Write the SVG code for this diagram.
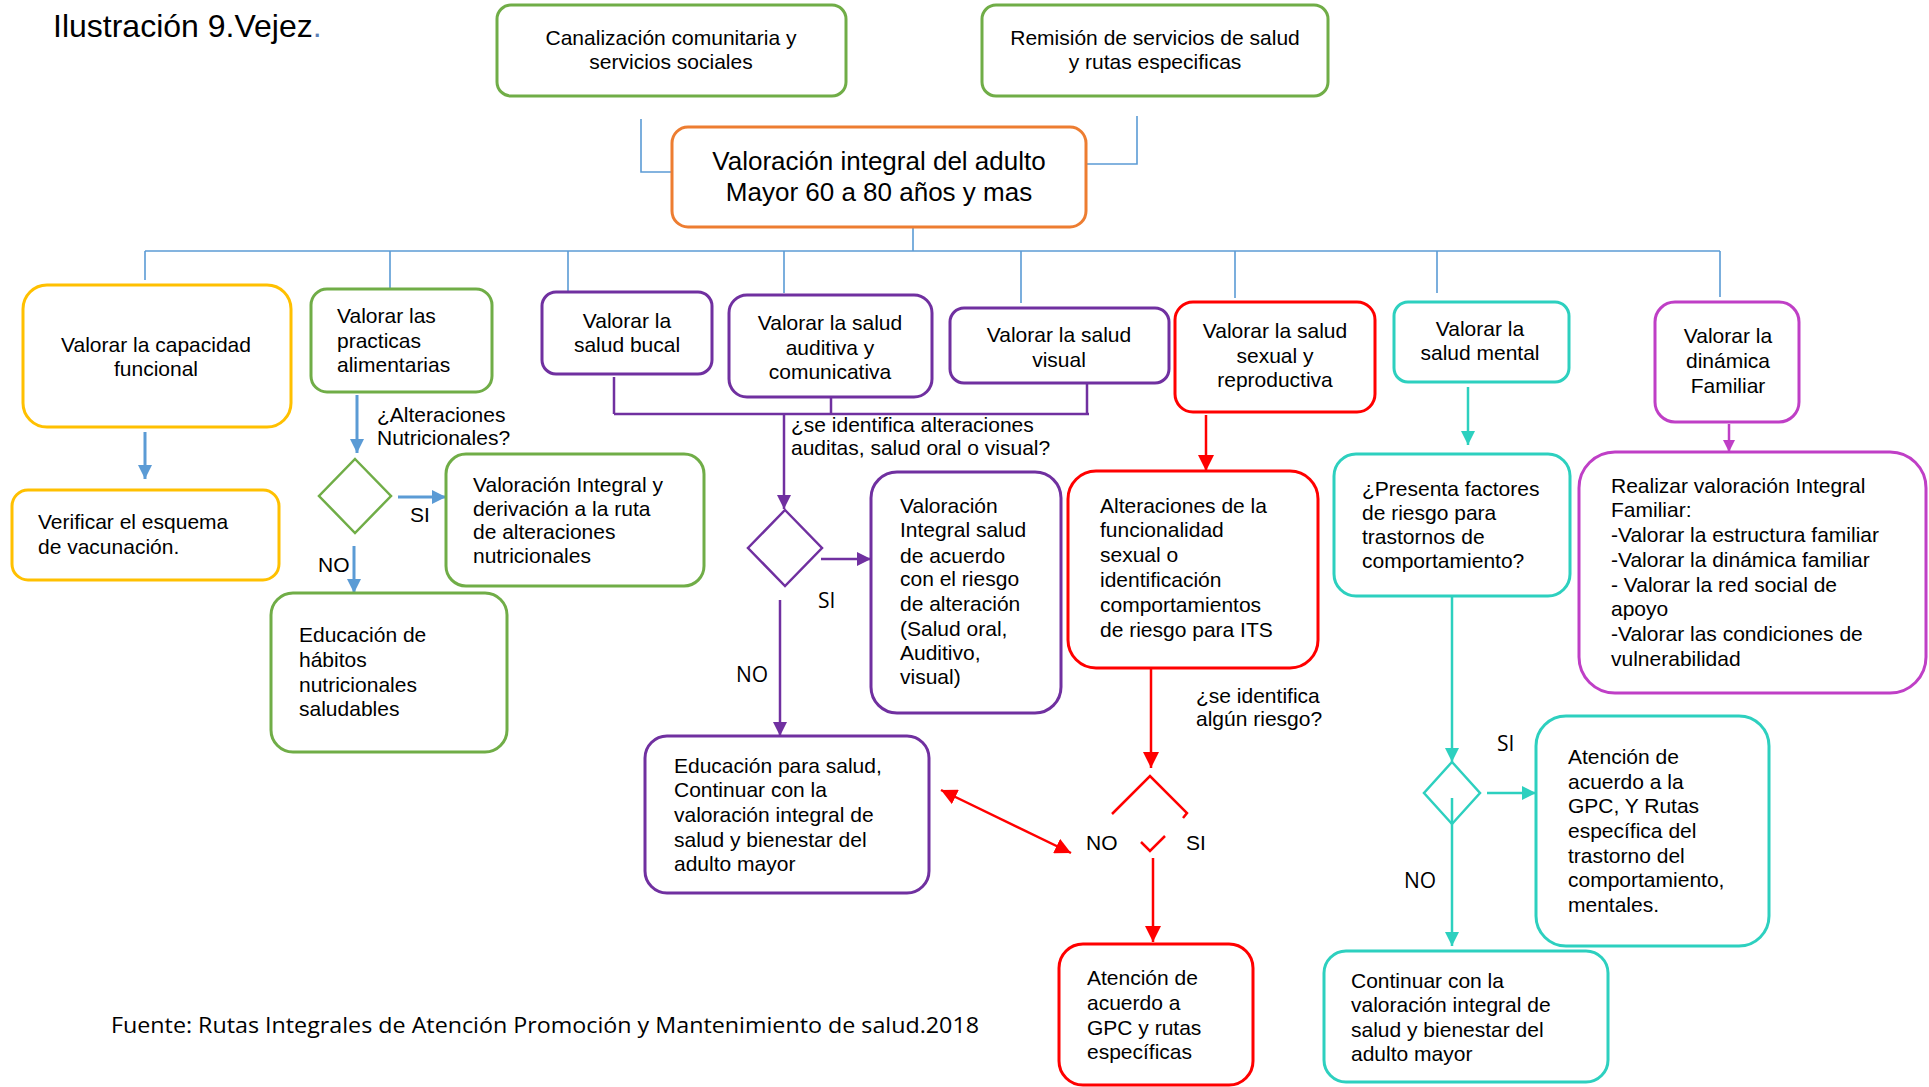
<svg xmlns="http://www.w3.org/2000/svg" width="1929" height="1087" viewBox="0 0 1929 1087">
<style>
.t{font-family:"Liberation Sans",Arial,sans-serif;font-size:21px;fill:#000}
.c{text-anchor:middle}
.k{font-family:"Open Sans","Liberation Sans",sans-serif;font-size:21px;fill:#000}
.box{fill:#fff;stroke-width:3}
.yl{stroke:#FFC000}.gr{stroke:#70AD47}.pu{stroke:#7030A0}.rd{stroke:#FF0000}.cy{stroke:#2DD0BF}.mg{stroke:#BF3FC6}.or{stroke:#ED7D31}
.dia{fill:#fff;stroke-width:2.5}
.tree{fill:none;stroke:#5B9BD5;stroke-width:1.6}
.ab{fill:none;stroke:#5B9BD5;stroke-width:3}
.ap{fill:none;stroke:#7030A0;stroke-width:2.5}
.ar{fill:none;stroke:#FF0000;stroke-width:2.5}
.ac{fill:none;stroke:#2DD0BF;stroke-width:2.5}
.am{fill:none;stroke:#BF3FC6;stroke-width:2.5}
</style>
<defs>
<marker id="mb" viewBox="0 0 10 10" refX="10" refY="5" markerWidth="14" markerHeight="16" markerUnits="userSpaceOnUse" orient="auto"><path d="M0,0 L10,5 L0,10 z" fill="#5B9BD5"/></marker>
<marker id="mp" viewBox="0 0 10 10" refX="10" refY="5" markerWidth="14" markerHeight="16" markerUnits="userSpaceOnUse" orient="auto"><path d="M0,0 L10,5 L0,10 z" fill="#7030A0"/></marker>
<marker id="mr" viewBox="0 0 10 10" refX="10" refY="5" markerWidth="16" markerHeight="16" markerUnits="userSpaceOnUse" orient="auto-start-reverse"><path d="M0,0 L10,5 L0,10 z" fill="#FF0000"/></marker>
<marker id="mc" viewBox="0 0 10 10" refX="10" refY="5" markerWidth="14" markerHeight="16" markerUnits="userSpaceOnUse" orient="auto"><path d="M0,0 L10,5 L0,10 z" fill="#2DD0BF"/></marker>
<marker id="mm" viewBox="0 0 10 10" refX="10" refY="5" markerWidth="12" markerHeight="14" markerUnits="userSpaceOnUse" orient="auto"><path d="M0,0 L10,5 L0,10 z" fill="#BF3FC6"/></marker>
</defs>
<rect width="1929" height="1087" fill="#fff"/>

<g id="title">
<text class="t" x="53" y="37" style="font-size:32px">Ilustración 9.Vejez<tspan fill="#5B7FB5">.</tspan></text>
</g>

<g id="connectors">
<path class="tree" d="M641,119 V172 H672"/>
<path class="tree" d="M1137,116 V164 H1086"/>
<path class="tree" d="M913,227 V251"/>
<path class="tree" d="M145,251 H1720"/>
<path class="tree" d="M145,251 V280 M390,251 V288 M568,251 V292 M784,251 V293 M1021,251 V303 M1235,251 V298 M1437,251 V293 M1720,251 V297"/>
<line class="ab" x1="145" y1="432" x2="145" y2="479" marker-end="url(#mb)"/>
<line class="ab" x1="357" y1="395" x2="357" y2="453" marker-end="url(#mb)"/>
<line class="ab" x1="398" y1="497" x2="446" y2="497" marker-end="url(#mb)"/>
<line class="ab" x1="354" y1="546" x2="354" y2="593" marker-end="url(#mb)"/>
<path class="ap" d="M614,377 V414 M831,396 V414 M1087,382 V414 M614,414 H1089"/>
<line class="ap" x1="784" y1="414" x2="784" y2="509" marker-end="url(#mp)"/>
<line class="ap" x1="821" y1="559" x2="871" y2="559" marker-end="url(#mp)"/>
<line class="ap" x1="780" y1="600" x2="780" y2="736" marker-end="url(#mp)"/>
<line class="ar" x1="1206" y1="415" x2="1206" y2="471" marker-end="url(#mr)"/>
<line class="ar" x1="1151" y1="668" x2="1151" y2="768" marker-end="url(#mr)"/>
<line class="ar" x1="941" y1="790" x2="1071" y2="853" marker-start="url(#mr)" marker-end="url(#mr)"/>
<line class="ar" x1="1153" y1="858" x2="1153" y2="942" marker-end="url(#mr)"/>
<line class="ac" x1="1468" y1="387" x2="1468" y2="445" marker-end="url(#mc)"/>
<line class="ac" x1="1452" y1="596" x2="1452" y2="762" marker-end="url(#mc)"/>
<line class="ac" x1="1487" y1="793" x2="1536" y2="793" marker-end="url(#mc)"/>
<line class="am" x1="1729" y1="424" x2="1729" y2="452" marker-end="url(#mm)"/>
</g>

<g id="n-canalizacion">
<rect class="box gr" x="497" y="5" width="349" height="91" rx="14"/>
<text class="t c" x="671" y="45">Canalización comunitaria y</text>
<text class="t c" x="671" y="69">servicios sociales</text>
</g>
<g id="n-remision">
<rect class="box gr" x="982" y="5" width="346" height="91" rx="14"/>
<text class="t c" x="1155" y="45">Remisión de servicios de salud</text>
<text class="t c" x="1155" y="69">y rutas especificas</text>
</g>
<g id="n-central">
<rect class="box or" x="672" y="127" width="414" height="100" rx="16"/>
<text class="t c" x="879" y="170" style="font-size:26px">Valoración integral del adulto</text>
<text class="t c" x="879" y="201" style="font-size:26px">Mayor 60 a 80 años y mas</text>
</g>

<g id="n-capacidad">
<rect class="box yl" x="23" y="285" width="268" height="142" rx="24"/>
<text class="t c" x="156" y="352">Valorar la capacidad</text>
<text class="t c" x="156" y="376">funcional</text>
</g>
<g id="n-vacunacion">
<rect class="box yl" x="12" y="490" width="267" height="90" rx="16"/>
<text class="t" x="38" y="529">Verificar el esquema</text>
<text class="t" x="38" y="554">de vacunación.</text>
</g>

<g id="n-practicas">
<rect class="box gr" x="311" y="289" width="181" height="103" rx="16"/>
<text class="t" x="337" y="323">Valorar las</text>
<text class="t" x="337" y="348">practicas</text>
<text class="t" x="337" y="372">alimentarias</text>
</g>
<g id="n-dec-nutri">
<polygon class="dia gr" points="355,459 391,496 355,533 319,496"/>
</g>
<g id="lbl-nutri">
<text class="t" x="377" y="422">¿Alteraciones</text>
<text class="t" x="377" y="445">Nutricionales?</text>
<text class="t" x="410" y="522">SI</text>
<text class="t" x="318" y="572">NO</text>
</g>
<g id="n-val-nutri">
<rect class="box gr" x="446" y="454" width="258" height="132" rx="20"/>
<text class="t" x="473" y="492">Valoración Integral y</text>
<text class="t" x="473" y="516">derivación a la ruta</text>
<text class="t" x="473" y="539">de alteraciones</text>
<text class="t" x="473" y="563">nutricionales</text>
</g>
<g id="n-edu-habitos">
<rect class="box gr" x="271" y="593" width="236" height="159" rx="22"/>
<text class="t" x="299" y="642">Educación de</text>
<text class="t" x="299" y="667">hábitos</text>
<text class="t" x="299" y="692">nutricionales</text>
<text class="t" x="299" y="716">saludables</text>
</g>

<g id="n-bucal">
<rect class="box pu" x="542" y="292" width="170" height="82" rx="14"/>
<text class="t c" x="627" y="328">Valorar la</text>
<text class="t c" x="627" y="352">salud bucal</text>
</g>
<g id="n-auditiva">
<rect class="box pu" x="729" y="295" width="203" height="102" rx="18"/>
<text class="t c" x="830" y="330">Valorar la salud</text>
<text class="t c" x="830" y="355">auditiva y</text>
<text class="t c" x="830" y="379">comunicativa</text>
</g>
<g id="n-visual">
<rect class="box pu" x="950" y="308" width="219" height="75" rx="14"/>
<text class="t c" x="1059" y="342">Valorar la salud</text>
<text class="t c" x="1059" y="367">visual</text>
</g>
<g id="n-dec-sentidos">
<polygon class="dia pu" points="785,510 822,548 785,586 748,548"/>
</g>
<g id="lbl-sentidos">
<text class="t" x="791" y="432">¿se identifica alteraciones</text>
<text class="t" x="791" y="455">auditas, salud oral o visual?</text>
<text class="k" x="818" y="608">SI</text>
<text class="k" x="736" y="682">NO</text>
</g>
<g id="n-val-salud">
<rect class="box pu" x="871" y="472" width="190" height="241" rx="26"/>
<text class="t" x="900" y="513">Valoración</text>
<text class="t" x="900" y="537">Integral salud</text>
<text class="t" x="900" y="563">de acuerdo</text>
<text class="t" x="900" y="586">con el riesgo</text>
<text class="t" x="900" y="611">de alteración</text>
<text class="t" x="900" y="636">(Salud oral,</text>
<text class="t" x="900" y="660">Auditivo,</text>
<text class="t" x="900" y="684">visual)</text>
</g>
<g id="n-edu-salud">
<rect class="box pu" x="645" y="736" width="284" height="157" rx="22"/>
<text class="t" x="674" y="773">Educación para salud,</text>
<text class="t" x="674" y="797">Continuar con la</text>
<text class="t" x="674" y="822">valoración integral de</text>
<text class="t" x="674" y="847">salud y bienestar del</text>
<text class="t" x="674" y="871">adulto mayor</text>
</g>

<g id="n-sexual">
<rect class="box rd" x="1175" y="302" width="200" height="110" rx="18"/>
<text class="t c" x="1275" y="338">Valorar la salud</text>
<text class="t c" x="1275" y="363">sexual y</text>
<text class="t c" x="1275" y="387">reproductiva</text>
</g>
<g id="n-alteraciones">
<rect class="box rd" x="1068" y="471" width="250" height="197" rx="28"/>
<text class="t" x="1100" y="513">Alteraciones de la</text>
<text class="t" x="1100" y="537">funcionalidad</text>
<text class="t" x="1100" y="562">sexual o</text>
<text class="t" x="1100" y="587">identificación</text>
<text class="t" x="1100" y="612">comportamientos</text>
<text class="t" x="1100" y="637">de riesgo para ITS</text>
</g>
<g id="n-dec-riesgo">
<polyline points="1112,814 1150,776 1187,813 1183,818" fill="none" stroke="#FF0000" stroke-width="2.5"/>
<polyline points="1141,842 1150,851 1165,836" fill="none" stroke="#FF0000" stroke-width="2.5"/>
</g>
<g id="lbl-riesgo">
<text class="t" x="1196" y="703">¿se identifica</text>
<text class="t" x="1196" y="726">algún riesgo?</text>
<text class="t" x="1086" y="850">NO</text>
<text class="t" x="1186" y="850">SI</text>
</g>
<g id="n-atencion-gpc">
<rect class="box rd" x="1059" y="944" width="194" height="141" rx="24"/>
<text class="t" x="1087" y="985">Atención de</text>
<text class="t" x="1087" y="1010">acuerdo a</text>
<text class="t" x="1087" y="1035">GPC y rutas</text>
<text class="t" x="1087" y="1059">específicas</text>
</g>

<g id="n-mental">
<rect class="box cy" x="1394" y="302" width="175" height="80" rx="14"/>
<text class="t c" x="1480" y="336">Valorar la</text>
<text class="t c" x="1480" y="360">salud mental</text>
</g>
<g id="n-presenta">
<rect class="box cy" x="1334" y="454" width="236" height="142" rx="22"/>
<text class="t" x="1362" y="496">¿Presenta factores</text>
<text class="t" x="1362" y="520">de riesgo para</text>
<text class="t" x="1362" y="544">trastornos de</text>
<text class="t" x="1362" y="568">comportamiento?</text>
</g>
<g id="n-dec-mental">
<polygon class="dia cy" points="1452,762 1480,793 1452,824 1424,793"/>
</g>
<g id="lbl-mental">
<text class="k" x="1497" y="751">SI</text>
<text class="k" x="1404" y="888">NO</text>
</g>
<g id="n-atencion-trastorno">
<rect class="box cy" x="1536" y="716" width="233" height="230" rx="30"/>
<text class="t" x="1568" y="764">Atención de</text>
<text class="t" x="1568" y="789">acuerdo a la</text>
<text class="t" x="1568" y="813">GPC, Y Rutas</text>
<text class="t" x="1568" y="838">específica del</text>
<text class="t" x="1568" y="863">trastorno del</text>
<text class="t" x="1568" y="887">comportamiento,</text>
<text class="t" x="1568" y="912">mentales.</text>
</g>
<g id="n-continuar">
<rect class="box cy" x="1324" y="951" width="284" height="131" rx="22"/>
<text class="t" x="1351" y="988">Continuar con la</text>
<text class="t" x="1351" y="1012">valoración integral de</text>
<text class="t" x="1351" y="1037">salud y bienestar del</text>
<text class="t" x="1351" y="1061">adulto mayor</text>
</g>
<g id="connector-no-mental">
<line class="ac" x1="1452" y1="798" x2="1452" y2="946" marker-end="url(#mc)"/>
</g>

<g id="n-dinamica">
<rect class="box mg" x="1655" y="302" width="144" height="120" rx="20"/>
<text class="t c" x="1728" y="343">Valorar la</text>
<text class="t c" x="1728" y="368">dinámica</text>
<text class="t c" x="1728" y="393">Familiar</text>
</g>
<g id="n-realizar">
<rect class="box mg" x="1579" y="452" width="347" height="241" rx="36"/>
<text class="t" x="1611" y="493">Realizar valoración Integral</text>
<text class="t" x="1611" y="517">Familiar:</text>
<text class="t" x="1611" y="542">-Valorar la estructura familiar</text>
<text class="t" x="1611" y="567">-Valorar la dinámica familiar</text>
<text class="t" x="1611" y="592">- Valorar la red social de</text>
<text class="t" x="1611" y="616">apoyo</text>
<text class="t" x="1611" y="641">-Valorar las condiciones de</text>
<text class="t" x="1611" y="666">vulnerabilidad</text>
</g>

<g id="footer">
<text class="k" x="111" y="1033" style="font-size:22px" textLength="868" lengthAdjust="spacingAndGlyphs">Fuente: Rutas Integrales de Atención Promoción y Mantenimiento de salud.2018</text>
</g>
</svg>
